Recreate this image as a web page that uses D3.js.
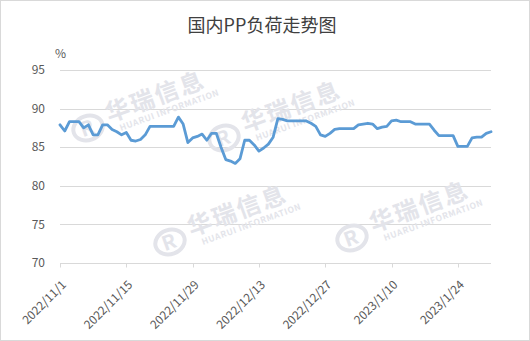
<!DOCTYPE html>
<html>
<head>
<meta charset="utf-8">
<script src="https://cdn.jsdelivr.net/npm/d3@7"></script>
<style>
  body { margin: 0; background: #fff; }
  text { font-family: "Noto Sans CJK SC", "Noto Sans", sans-serif; }
</style>
</head>
<body>
<div id="chart"></div>
<script>
// daily load rate, 2022/11/1 .. 2023/1/31
var startDate = "2022-11-01"
var endDate = "2023-01-31"
var loadValues = [
  87.9, 87.1, 88.3, 88.3, 88.3, 87.5, 87.9, 86.6, 86.6, 87.9,
  87.9, 87.3, 87.0, 86.6, 86.9, 85.9, 85.8, 86.0, 86.6, 87.7,
  87.7, 87.7, 87.7, 87.7, 87.7, 88.9, 88.0, 85.6, 86.2, 86.4,
  86.7, 85.9, 86.8, 86.8, 85.0, 83.4, 83.2, 82.9, 83.5, 85.9,
  85.9, 85.3, 84.5, 84.9, 85.4, 86.3, 88.7, 88.6, 88.4, 88.4,
  88.4, 88.4, 88.4, 88.1, 87.7, 86.6, 86.4, 86.8, 87.3, 87.4,
  87.4, 87.4, 87.4, 87.9, 88.0, 88.1, 88.0, 87.4, 87.6, 87.7,
  88.4, 88.5, 88.3, 88.3, 88.3, 88.0, 88.0, 88.0, 88.0, 87.2,
  86.5, 86.5, 86.5, 86.5, 85.1, 85.1, 85.1, 86.2, 86.3, 86.3,
  86.8, 87.0
]
var yTicks = [70, 75, 80, 85, 90, 95]
var xTickLabels = ["2022/11/1", "2022/11/15", "2022/11/29", "2022/12/13", "2022/12/27", "2023/1/10", "2023/1/24"]

var width = 530, height = 341
var margin = {left: 60, right: 39, top: 70, bottom: 78}

// watermark anchors (logo centre)
var marks = [[88, 128], [224, 138], [170, 242], [352, 238]]

var parse = d3.timeParse("%Y-%m-%d")
var t0 = parse(startDate)
var data = loadValues.map((v, i) => ({date: d3.timeDay.offset(t0, i), value: v}))

var svg = d3.select("#chart").append("svg")
  .attr("width", width).attr("height", height)

svg.append("rect")
  .attr("x", 0.5).attr("y", 0.5)
  .attr("width", width - 1).attr("height", height - 1)
  .attr("fill", "#fff").attr("stroke", "#d9d9d9")

var x = d3.scaleTime()
  .domain([t0, parse(endDate)])
  .range([margin.left, width - margin.right])
var y = d3.scaleLinear()
  .domain([70, 95])
  .range([height - margin.bottom, margin.top])

// title
svg.append("text")
  .attr("x", 262).attr("y", 32)
  .attr("text-anchor", "middle")
  .attr("font-size", 18)
  .attr("fill", "#404040")
  .text("国内PP负荷走势图")

svg.append("text")
  .attr("x", 55).attr("y", 58)
  .attr("font-size", 12)
  .attr("fill", "#595959")
  .text("%")

// grid + y labels
svg.selectAll(".grid").data(yTicks).enter().append("line")
  .attr("x1", margin.left).attr("x2", width - margin.right)
  .attr("y1", d => Math.round(y(d)) + 0.5).attr("y2", d => Math.round(y(d)) + 0.5)
  .attr("stroke", "#d9d9d9")

svg.selectAll(".ylab").data(yTicks).enter().append("text")
  .attr("x", 45).attr("y", d => y(d))
  .attr("dy", "0.35em")
  .attr("text-anchor", "end")
  .attr("font-size", 12)
  .attr("fill", "#595959")
  .text(d => d)

// watermarks
var wm = svg.selectAll(".wm").data(marks).enter().append("g")
  .attr("transform", d => "translate(" + d[0] + "," + d[1] + ") rotate(-20)")
  .attr("fill", "#e3e4ea").attr("stroke", "none")
wm.append("ellipse").attr("rx", 15).attr("ry", 12)
  .attr("fill", "none").attr("stroke", "#e3e4ea").attr("stroke-width", 4)
wm.append("text").attr("x", -8).attr("y", 7)
  .attr("font-size", 20).attr("font-weight", "bold").text("R")
wm.append("text").attr("x", 22).attr("y", 2)
  .attr("font-size", 24).attr("font-weight", "bold")
  .attr("letter-spacing", 2).text("华瑞信息")
wm.append("text").attr("x", 30).attr("y", 14)
  .attr("font-size", 8.5).attr("font-weight", "bold")
  .attr("letter-spacing", 0.6).text("HUARUI INFORMATION")

// x ticks
var xTicks = xTickLabels.map(s => d3.timeParse("%Y/%m/%d")(s))
var base = Math.round(y(70)) + 0.5
svg.selectAll(".xtick").data(xTicks).enter().append("line")
  .attr("x1", d => Math.round(x(d)) + 0.5).attr("x2", d => Math.round(x(d)) + 0.5)
  .attr("y1", base).attr("y2", base + 4)
  .attr("stroke", "#d9d9d9")

svg.selectAll(".xlab").data(xTickLabels).enter().append("text")
  .attr("transform", (d, i) => "translate(" + (x(xTicks[i]) + 7) + "," + (base + 22) + ") rotate(-45)")
  .attr("text-anchor", "end")
  .attr("font-size", 12)
  .attr("fill", "#595959")
  .text(d => d)

// line
var line = d3.line().x(d => x(d.date)).y(d => y(d.value))
svg.append("path").datum(data)
  .attr("d", line)
  .attr("fill", "none")
  .attr("stroke", "#5b9bd5")
  .attr("stroke-width", 2.8)
  .attr("stroke-linejoin", "round")
  .attr("stroke-linecap", "round")
</script>
</body>
</html>
